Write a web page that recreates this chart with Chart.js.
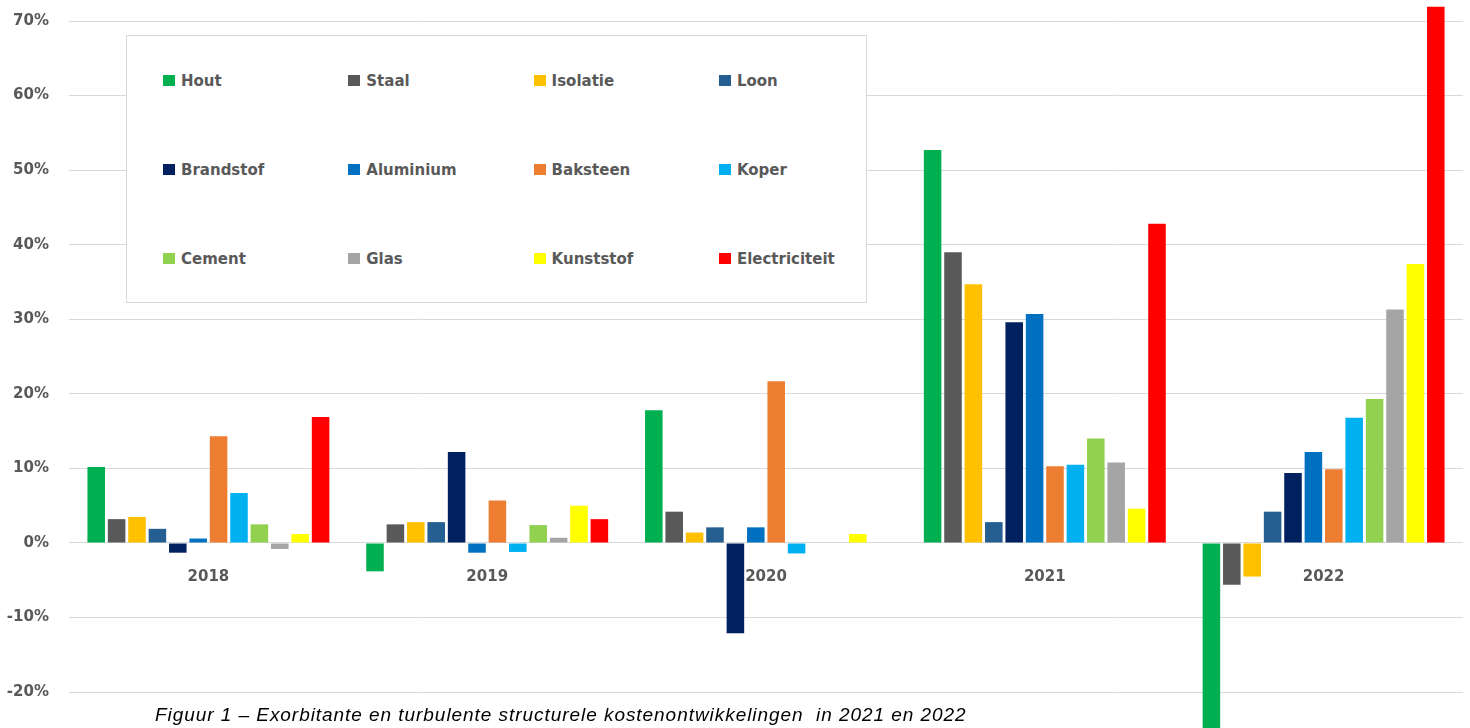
<!DOCTYPE html>
<html>
<head>
<meta charset="utf-8">
<script src="https://cdn.jsdelivr.net/npm/chart.js@4"></script>
<style>
  html, body { margin: 0; padding: 0; background: #ffffff; overflow: hidden; }
  #wrap { position: relative; width: 1470px; height: 728px; }
  #c { position: absolute; left: 0; top: 0; }
  #legend {
    position: absolute; left: 126px; top: 35px; width: 739px; height: 266px;
    background: #ffffff; border: 1px solid #d9d9d9;
    font-family: "DejaVu Sans", sans-serif; font-weight: bold; font-size: 15px; color: #595959;
  }
  .li { position: absolute; height: 20px; line-height: 20px; white-space: nowrap; }
  .sw { position: absolute; left: 0; top: 4px; width: 12px; height: 11px; }
  .lt { position: absolute; left: 18px; top: 0; }
  #caption {
    position: absolute; left: 155px; top: 705px; white-space: pre;
    font-family: "Liberation Sans", Arial, sans-serif; font-style: italic; font-size: 19px;
    letter-spacing: 0.95px; line-height: 19px; color: #000000;
  }
</style>
</head>
<body>
<div id="wrap">
  <canvas id="c" width="1470" height="728"></canvas>
  <div id="legend"></div>
  <div id="caption">Figuur 1 – Exorbitante en turbulente structurele kostenontwikkelingen  in 2021 en 2022</div>
</div>
<script>
// ---- data ----
const categories = ['2018', '2019', '2020', '2021', '2022'];
const seriesNames = ['Hout', 'Staal', 'Isolatie', 'Loon', 'Brandstof', 'Aluminium', 'Baksteen', 'Koper', 'Cement', 'Glas', 'Kunststof', 'Electriciteit'];
const hout          = [10.2, -3.8, 17.8, 52.7, -26.0];
const staal         = [3.2, 2.5, 4.2, 39.0, -5.6];
const isolatie      = [3.5, 2.8, 1.4, 34.7, -4.5];
const loon          = [1.9, 2.8, 2.1, 2.8, 4.2];
const brandstof     = [-1.3, 12.2, -12.1, 29.6, 9.4];
const aluminium     = [0.6, -1.3, 2.1, 30.7, 12.2];
const baksteen      = [14.3, 5.7, 21.7, 10.3, 9.9];
const koper         = [6.7, -1.2, -1.4, 10.5, 16.8];
const cement        = [2.5, 2.4, null, 14.0, 19.3];
const glas          = [-0.8, 0.7, null, 10.8, 31.3];
const kunststof     = [1.2, 5.0, 1.2, 4.6, 37.4];
const electriciteit = [16.9, 3.2, null, 42.8, 71.9];
const yTickValues = [-20, -10, 0, 10, 20, 30, 40, 50, 60, 70];

// ---- styles ----
const seriesValues = [hout, staal, isolatie, loon, brandstof, aluminium, baksteen, koper, cement, glas, kunststof, electriciteit];
const seriesColors = ['#00B050', '#595959', '#FFC000', '#255E91', '#002060', '#0070C0', '#ED7D31', '#00B0F0', '#92D050', '#A5A5A5', '#FFFF00', '#FF0000'];

const datasets = seriesNames.map((name, i) => ({
  label: name,
  data: seriesValues[i],
  backgroundColor: seriesColors[i],
  borderWidth: 0,
  barPercentage: 0.86,
  categoryPercentage: 0.878
}));

const axisFont = { family: '"DejaVu Sans", sans-serif', size: 15, weight: 'bold' };

new Chart(document.getElementById('c'), {
  type: 'bar',
  data: { labels: categories, datasets: datasets },
  options: {
    responsive: false,
    animation: false,
    layout: { padding: { left: 0, right: 7, top: 0, bottom: 0 } },
    plugins: { legend: { display: false }, tooltip: { enabled: false }, title: { display: false } },
    scales: {
      x: {
        type: 'category',
        position: { y: 0 },
        grid: { display: false, drawTicks: false },
        border: { display: false },
        ticks: { color: '#595959', font: axisFont, padding: 25, maxRotation: 0 },
        afterFit: (s) => { s.paddingLeft = 0; s.paddingRight = 0; }
      },
      y: {
        min: -24.81,
        max: 72.82,
        grid: { color: '#d9d9d9', lineWidth: 1, drawTicks: false },
        border: { display: false },
        afterBuildTicks: (s) => { s.ticks = yTickValues.map(v => ({ value: v })); },
        ticks: {
          color: '#595959', font: axisFont, padding: 20,
          callback: (v) => v + '%'
        },
        afterFit: (s) => { s.width = 69; s.paddingTop = 0; s.paddingBottom = 0; }
      }
    }
  }
});

// ---- legend (HTML, built from the series arrays) ----
const legendEl = document.getElementById('legend');
seriesNames.forEach((name, i) => {
  const col = i % 4, row = Math.floor(i / 4);
  const item = document.createElement('div');
  item.className = 'li';
  item.style.left = (36 + col * 185.3) + 'px';
  item.style.top = (35 + row * 89) + 'px';
  const sw = document.createElement('span');
  sw.className = 'sw';
  sw.style.background = seriesColors[i];
  const t = document.createElement('span');
  t.className = 'lt';
  t.textContent = name;
  item.appendChild(sw); item.appendChild(t);
  legendEl.appendChild(item);
});
</script>
</body>
</html>
